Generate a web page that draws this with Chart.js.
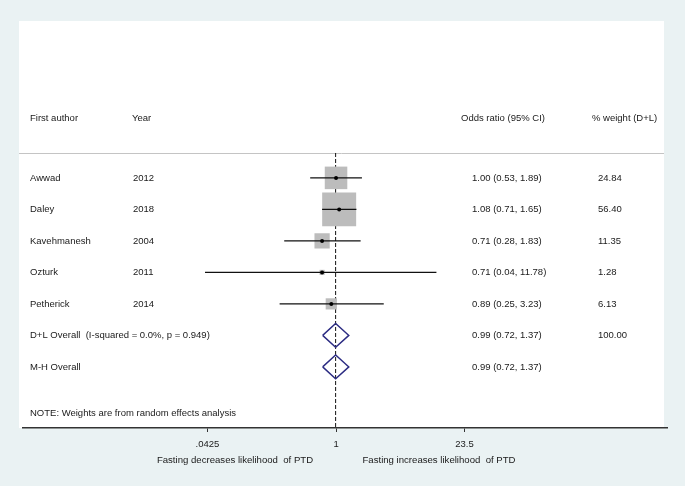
<!DOCTYPE html>
<html><head><meta charset="utf-8">
<script src="https://cdn.jsdelivr.net/npm/chart.js@4"></script>
<style>html,body{margin:0;padding:0;background:#eaf2f3;overflow:hidden}</style>
</head><body>
<canvas id="c" width="685" height="486" style="display:block;width:685px;height:486px"></canvas>
<script>
// ---- data ----
const authors = ['Awwad','Daley','Kavehmanesh','Ozturk','Petherick'];
const years = ['2012','2018','2004','2011','2014'];
const oddsRatio = [1.00,1.08,0.71,0.71,0.89];
const ciLow = [0.53,0.71,0.28,0.04,0.25];
const ciHigh = [1.89,1.65,1.83,11.78,3.23];
const weights = [24.84,56.40,11.35,1.28,6.13];
const pooledLabels = ['D+L Overall  (I-squared = 0.0%, p = 0.949)','M-H Overall'];
const pooledOR = [0.99,0.99];
const pooledLow = [0.72,0.72];
const pooledHigh = [1.37,1.37];
const pooledWeights = ['100.00',''];
const headers = ['First author','Year','Odds ratio (95% CI)','% weight (D+L)'];
const tickValues = [0.0425,1,23.5];
const tickLabels = ['.0425','1','23.5'];
const axisTitles = ['Fasting decreases likelihood  of PTD','Fasting increases likelihood  of PTD'];
const note = 'NOTE: Weights are from random effects analysis';

// ---- layout ----
const FONT = '9.5px "Liberation Sans", Arial, sans-serif';
const TXT = '#1a1a1a';
const Y_MIN = -4.98, Y_MAX = 7.94;
const rowStudy = authors.map((_, i) => i);
const rowPooled = pooledLabels.map((_, i) => authors.length + i);
const rowHeader = -1.88, rowRule = -0.79, rowNote = 7.48;
const fmt = (o, l, h) => o.toFixed(2) + ' (' + l.toFixed(2) + ', ' + h.toFixed(2) + ')';

const datasets = [];
// null line (dashed)
datasets.push({data:[{x:pooledOR[0],y:rowRule},{x:pooledOR[0],y:Y_MAX}], showLine:true, borderColor:'#111', borderWidth:1, borderDash:[4,2], pointRadius:0, order:10});
// weight boxes
datasets.push({data: oddsRatio.map((v,i)=>({x:v,y:rowStudy[i]})), pointStyle:'rect', backgroundColor:'#bcbcbc', borderWidth:0,
  pointRadius: ctx => 3.2*Math.sqrt(weights[ctx.dataIndex]), showLine:false, order:5});
// CI lines
oddsRatio.forEach((v,i)=>{
  datasets.push({data:[{x:ciLow[i],y:rowStudy[i]},{x:ciHigh[i],y:rowStudy[i]}], showLine:true, borderColor:'#111', borderWidth:1.4, pointRadius:0, order:3});
});
// point estimates
datasets.push({data: oddsRatio.map((v,i)=>({x:v,y:rowStudy[i]})), pointStyle:'circle', backgroundColor:'#000', borderWidth:0, pointRadius:2, showLine:false, order:1});
// diamonds
const dh = 0.38;
pooledOR.forEach((v,i)=>{
  const r = rowPooled[i];
  datasets.push({data:[{x:pooledLow[i],y:r},{x:v,y:r-dh},{x:pooledHigh[i],y:r},{x:v,y:r+dh},{x:pooledLow[i],y:r}],
    showLine:true, borderColor:'#2b2b82', borderWidth:1.4, pointRadius:0, order:2});
});

const textPlugin = {
  id:'forest',
  beforeDraw(chart){
    const c = chart.ctx;
    c.save(); c.fillStyle='#ffffff'; c.fillRect(19,21,645,407); c.restore();
  },
  beforeDatasetsDraw(chart){
    const c = chart.ctx, ys = chart.scales.y;
    const y = Math.round(ys.getPixelForValue(rowRule))+0.5;
    c.save(); c.strokeStyle='#c4c4c4'; c.lineWidth=1;
    c.beginPath(); c.moveTo(19,y); c.lineTo(664,y); c.stroke(); c.restore();
  },
  afterDraw(chart){
    const c = chart.ctx, ys = chart.scales.y;
    c.save(); c.font = FONT; c.fillStyle = TXT; c.textBaseline='middle'; c.textAlign='left';
    const hy = ys.getPixelForValue(rowHeader);
    c.fillText(headers[0],30,hy); c.fillText(headers[1],132,hy); c.fillText(headers[2],461,hy); c.fillText(headers[3],592,hy);
    authors.forEach((a,i)=>{
      const y = ys.getPixelForValue(rowStudy[i]);
      c.fillText(a,30,y); c.fillText(years[i],133,y);
      c.fillText(fmt(oddsRatio[i],ciLow[i],ciHigh[i]),472,y);
      c.fillText(weights[i].toFixed(2),598,y);
    });
    pooledLabels.forEach((p,i)=>{
      const y = ys.getPixelForValue(rowPooled[i]);
      c.fillText(p,30,y);
      c.fillText(fmt(pooledOR[i],pooledLow[i],pooledHigh[i]),472,y);
      if (pooledWeights[i]) c.fillText(pooledWeights[i],598,y);
    });
    c.fillText(note,30,ys.getPixelForValue(rowNote));
    c.font = '9.6px "Liberation Sans", Arial, sans-serif'; c.textAlign='center';
    c.fillText(axisTitles[0],235,460); c.fillText(axisTitles[1],439,460);
    c.restore();
  }
};

new Chart(document.getElementById('c'), {
  type:'scatter',
  data:{datasets},
  plugins:[textPlugin],
  options:{
    responsive:false, animation:false, devicePixelRatio:1,
    layout:{autoPadding:false, padding:{left:23,right:18,top:21,bottom:0}},
    plugins:{legend:{display:false}, tooltip:{enabled:false}},
    scales:{
      x:{type:'logarithmic', min:0.000457, max:3400,
        afterBuildTicks(s){ s.ticks = tickValues.map(v=>({value:v})); },
        afterFit(s){ s.height = 58; },
        ticks:{autoSkip:false, maxRotation:0, padding:7, color:TXT, font:{family:'"Liberation Sans", Arial, sans-serif', size:9.5},
          callback:(v,i)=>tickLabels[i]},
        grid:{drawOnChartArea:false, drawTicks:true, tickLength:4, color:'#333', lineWidth:1},
        border:{display:true, color:'#333', width:1.5}
      },
      y:{type:'linear', min:Y_MIN, max:Y_MAX, reverse:true, display:false}
    }
  }
});
</script>
</body></html>
